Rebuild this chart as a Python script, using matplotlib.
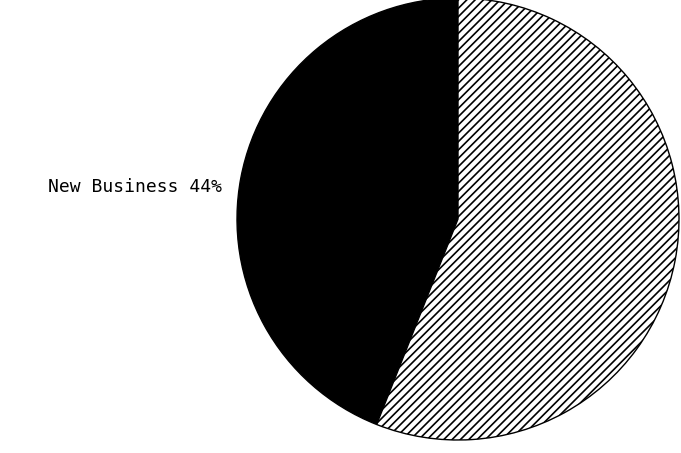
import matplotlib
matplotlib.use("Agg")
import matplotlib.pyplot as plt

categories = ["New Business", "Other"]
values = [44, 56]
label_text = "New Business 44%"

fig = plt.figure(figsize=(6.81, 4.53), dpi=100)
ax = fig.add_axes([0, 0, 1, 1])
ax.set_xlim(0, 681)
ax.set_ylim(0, 453)
ax.set_aspect("equal")
ax.axis("off")

plt.rcParams["hatch.linewidth"] = 1.2
wedges, _ = ax.pie(values, startangle=90, counterclock=True,
                   center=(458, 234), radius=221,
                   colors=["black", "white"],
                   wedgeprops=dict(edgecolor="black", linewidth=1.0))
wedges[1].set_hatch("////")
ax.set_xlim(0, 681)
ax.set_ylim(0, 453)

ax.text(222, 453 - 187, label_text, ha="right", va="center",
        fontsize=13, family="DejaVu Sans Mono", color="black")

fig.savefig("out.png", dpi=100)
